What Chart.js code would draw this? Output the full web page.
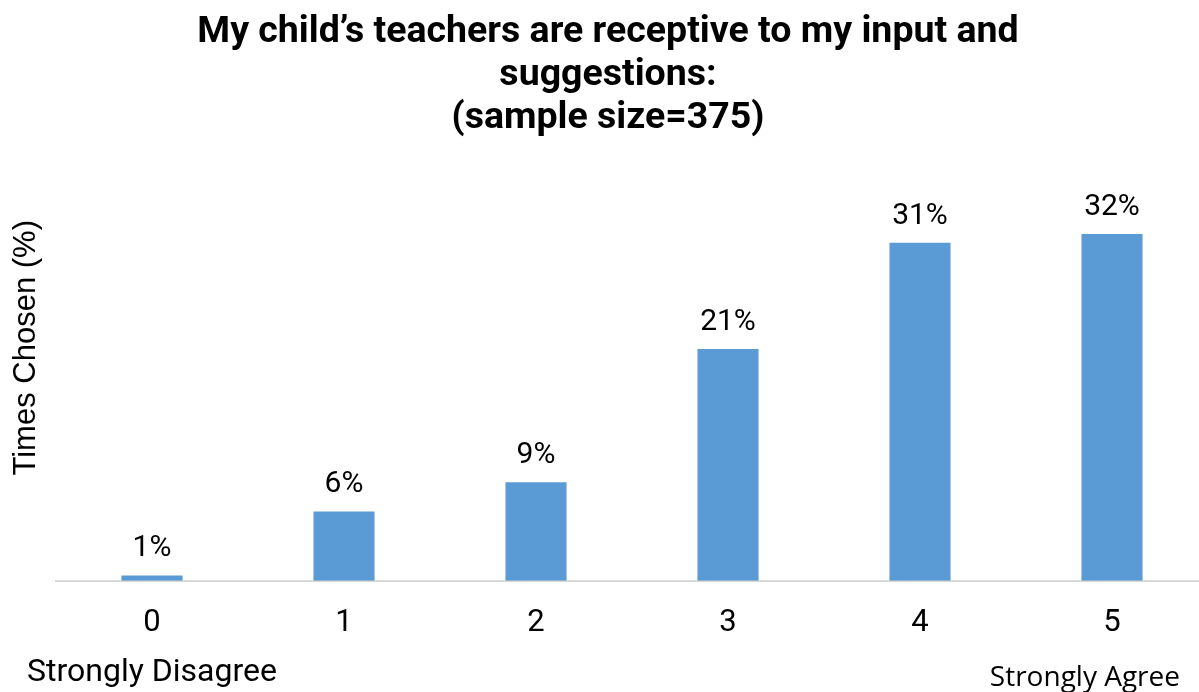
<!DOCTYPE html>
<html>
<head>
<meta charset="utf-8">
<script src="https://cdn.jsdelivr.net/npm/chart.js@4"></script>
<style>
    html, body { margin: 0; padding: 0; background: #fff; overflow: hidden; }
    #wrap { width: 1210px; height: 692px; position: relative; }
</style>
</head>
<body>
<div id="wrap"><canvas id="chart"></canvas></div>
<script>
// --- Data ---
const categories = ['0', '1', '2', '3', '4', '5'];
const percentValues = [0.5, 6.4, 9.1, 21.4, 31.2, 32.0];
const percentLabels = ['1%', '6%', '9%', '21%', '31%', '32%'];
const titleLines = ['My child\u2019s teachers are receptive to my input and', 'suggestions:', '(sample size=375)'];
const yAxisTitle = 'Times Chosen (%)';
const endLabels = ['Strongly Disagree', 'Strongly Agree'];

const BAR_COLOR = '#5b9bd5';

// value labels above bars
const barLabels = {
    id: 'barLabels',
    afterDatasetsDraw(chart) {
        const { ctx } = chart;
        const meta = chart.getDatasetMeta(0);
        ctx.save();
        ctx.font = '30px Roboto';
        ctx.fillStyle = '#000';
        ctx.textAlign = 'center';
        ctx.textBaseline = 'alphabetic';
        meta.data.forEach((bar, i) => {
            ctx.fillText(percentLabels[i], bar.x, bar.y - 19);
        });
        ctx.restore();
    }
};

// scale end descriptions under first/last category
const endText = {
    id: 'endText',
    afterDraw(chart) {
        const { ctx, chartArea } = chart;
        const x = chart.scales.x;
        ctx.save();
        ctx.fillStyle = '#000';
        ctx.textBaseline = 'middle';
        ctx.font = '32px Roboto';
        ctx.textAlign = 'center';
        ctx.fillText(endLabels[0], x.getPixelForValue(0), chartArea.bottom + 92);
        ctx.font = '28px "Open Sans"';
        ctx.textAlign = 'right';
        ctx.fillText(endLabels[1], x.getPixelForValue(5) + 68, chartArea.bottom + 97);
        ctx.restore();
    }
};

new Chart(document.getElementById('chart'), {
    type: 'bar',
    data: {
        labels: categories,
        datasets: [{
            data: percentValues,
            backgroundColor: BAR_COLOR,
            barPercentage: 0.318,
            categoryPercentage: 1,
        }],
    },
    options: {
        responsive: true,
        maintainAspectRatio: false,
        animation: false,
        layout: { padding: { left: 8, right: 2, top: 0, bottom: 26 } },
        plugins: {
            legend: { display: false },
            tooltip: { enabled: false },
            title: {
                display: true,
                text: titleLines,
                color: '#000',
                font: { family: 'Roboto, sans-serif', size: 37.5, weight: 'bold', lineHeight: 1.147 },
                padding: { top: 11, bottom: 80 },
            },
        },
        scales: {
            x: {
                grid: { display: false, drawTicks: false },
                border: { display: true, color: '#d9d9d9', width: 2 },
                ticks: { color: '#000', font: { family: 'Roboto', size: 31 }, padding: 24 },
            },
            y: {
                min: 0,
                max: 33.3,
                grid: { display: false, drawTicks: false },
                border: { display: false },
                ticks: { display: false },
                afterFit: (scale) => { scale.width = 48; },
                title: {
                    display: true,
                    text: yAxisTitle,
                    align: 'end',
                    color: '#000',
                    font: { family: '"Liberation Sans", Arial, sans-serif', size: 31 },
                    padding: { top: 0, bottom: 0 },
                },
            },
        },
    },
    plugins: [barLabels, endText],
});
</script>
</body>
</html>
